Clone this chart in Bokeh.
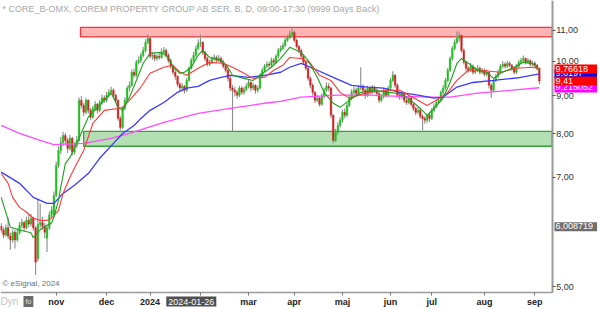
from bokeh.plotting import figure
from bokeh.models import (ColumnDataSource, Range1d, FixedTicker, CustomJSTickFormatter, Label)
from bokeh.embed import file_html
from bokeh.resources import INLINE

# ---------------- data (daily candles, trading-day index; 0 = 2023-11-01) ----------------
bar_index = list(range(-24, 212))

opens = [6.02, 5.95, 5.86, 5.99, 5.84, 5.77, 5.91, 5.77, 5.90, 6.04, 6.09, 5.99, 6.13, 6.06, 6.17, 5.99, 5.45, 6.05, 6.09, 6.02, 5.80, 5.99, 6.23, 6.25,
         6.62, 7.26, 7.60, 7.79, 7.96, 7.84, 7.65, 7.89, 7.56, 7.72, 7.84, 8.87, 8.73, 8.55, 8.87, 8.60, 8.42, 8.65, 8.76, 8.60, 8.81, 8.93,
         8.87, 9.01, 9.09, 9.15, 9.01, 8.87, 8.39, 8.16, 8.65, 8.87, 9.21, 9.29, 9.67, 9.58, 9.97, 10.03, 10.19, 10.34, 10.60,
         10.73, 10.16, 10.19, 10.09, 10.16, 10.12, 10.28, 10.34, 10.19, 10.03, 9.85, 9.67, 9.55, 9.32, 9.21, 9.26, 9.15, 9.43, 9.79, 10.03, 10.19, 10.40,
         10.57, 10.60, 10.28, 10.09, 9.91, 9.97, 10.09, 10.12, 10.03, 10.09, 9.97, 9.85, 9.73, 9.49, 9.21, 9.15, 9.09, 9.01, 9.21, 9.09, 9.18,
         9.26, 9.37, 9.21, 9.29, 9.15, 9.21, 9.58, 9.73, 9.85, 9.91, 9.88, 10.03, 9.97, 10.16, 10.34, 10.40, 10.50, 10.67, 10.76, 10.86,
         10.93, 10.67, 10.47, 10.34, 10.16, 9.97, 9.79, 9.49, 9.29, 9.09, 8.87, 8.93, 8.76, 8.98, 9.15, 9.26, 9.21, 8.47, 7.84, 8.04, 8.21,
         8.34, 8.55, 8.47, 8.73, 8.93, 9.09, 9.15, 9.06, 9.21, 9.26, 9.15, 9.01, 9.21, 9.09, 9.23, 9.15, 9.06, 8.87, 8.98, 9.15, 9.01,
         9.21, 9.43, 9.58, 9.29, 9.01, 8.96, 9.06, 8.87, 8.81, 8.93, 8.76, 8.65, 8.55, 8.60, 8.44, 8.39, 8.34, 8.47,
         8.39, 8.60, 8.70, 8.81, 8.87, 9.09, 9.21, 9.43, 9.73, 10.09, 10.40, 10.60, 10.73, 10.83, 10.34, 9.97, 9.79, 9.73, 9.85, 9.67, 9.73, 9.79, 9.67,
         9.73, 9.61, 9.67, 9.29, 9.15, 9.43, 9.55, 9.67, 9.85, 9.91, 9.85, 9.94, 9.88, 9.79, 9.67, 9.85, 9.97, 10.03, 10.09, 9.97, 10.03, 9.91,
         9.94, 9.88, 9.79]

highs = [6.08, 6.00, 6.05, 6.19, 5.90, 5.96, 5.95, 5.98, 6.10, 6.16, 6.12, 6.20, 6.24, 6.25, 6.20, 6.02, 6.55, 6.45, 6.20, 6.08, 6.05, 6.30, 6.40, 6.70,
         7.35, 7.70, 7.92, 8.05, 8.02, 7.90, 7.98, 7.93, 7.80, 7.95, 8.95, 8.98, 8.80, 8.93, 8.90, 8.66, 8.72, 8.85, 8.80, 8.88, 9.02, 9.00,
         9.10, 9.18, 9.25, 9.20, 9.05, 8.90, 8.45, 8.70, 8.95, 9.28, 9.40, 9.75, 9.78, 10.05, 10.15, 10.28, 10.45, 10.70, 10.86,
         10.80, 10.30, 10.25, 10.22, 10.25, 10.40, 10.45, 10.40, 10.25, 10.08, 9.90, 9.72, 9.58, 9.38, 9.35, 9.30, 9.50, 9.85, 10.10, 10.30, 10.50, 10.70,
         10.86, 10.65, 10.32, 10.15, 10.05, 10.15, 10.22, 10.18, 10.20, 10.15, 10.05, 9.92, 9.78, 9.55, 9.30, 9.25, 9.15, 9.28, 9.26, 9.25, 9.35,
         9.45, 9.42, 9.36, 9.32, 9.28, 9.65, 9.80, 9.92, 10.00, 9.98, 10.12, 10.10, 10.22, 10.42, 10.50, 10.60, 10.75, 10.85, 10.98, 11.07,
         11.00, 10.72, 10.52, 10.40, 10.22, 10.02, 9.84, 9.55, 9.35, 9.12, 9.02, 8.98, 9.05, 9.22, 9.38, 9.35, 9.25, 8.50, 8.12, 8.30, 8.42,
         8.62, 8.65, 8.80, 9.00, 9.18, 9.25, 9.22, 9.30, 9.82, 9.32, 9.20, 9.28, 9.25, 9.30, 9.28, 9.20, 9.10, 9.05, 9.22, 9.20, 9.28,
         9.50, 9.70, 9.62, 9.35, 9.08, 9.12, 9.10, 8.92, 9.00, 8.96, 8.80, 8.70, 8.68, 8.65, 8.50, 8.45, 8.52, 8.55,
         8.66, 8.78, 8.88, 8.95, 9.15, 9.30, 9.50, 9.80, 10.15, 10.48, 10.70, 10.97, 10.95, 10.86, 10.40, 10.02, 9.85, 9.95, 9.90, 9.82, 9.88, 9.85, 9.80,
         9.78, 9.75, 9.70, 9.35, 9.50, 9.62, 9.75, 9.92, 10.00, 9.98, 10.02, 10.00, 9.92, 9.85, 9.92, 10.05, 10.12, 10.18, 10.12, 10.10, 10.06, 10.02,
         10.00, 9.92, 9.82]

lows = [5.90, 5.80, 5.83, 5.79, 5.60, 5.72, 5.62, 5.74, 5.87, 5.98, 5.93, 5.96, 6.00, 6.02, 5.94, 5.18, 5.40, 5.98, 5.95, 5.80, 5.56, 5.95, 6.18, 6.20,
        6.58, 7.20, 7.52, 7.70, 7.75, 7.55, 7.60, 7.48, 7.50, 7.66, 7.80, 8.65, 8.45, 8.50, 8.52, 8.35, 8.38, 8.58, 8.52, 8.55, 8.75, 8.80,
        8.82, 8.95, 9.02, 8.95, 8.80, 8.33, 8.08, 8.12, 8.60, 8.82, 9.12, 9.25, 9.50, 9.52, 9.90, 9.95, 10.12, 10.28, 10.55,
        10.10, 10.05, 10.00, 10.02, 10.05, 10.08, 10.22, 10.12, 9.95, 9.78, 9.60, 9.45, 9.25, 9.10, 9.12, 9.05, 9.10, 9.40, 9.75, 9.98, 10.12, 10.35,
        10.45, 10.20, 10.00, 9.85, 9.86, 9.92, 10.02, 9.96, 9.98, 9.90, 9.78, 9.66, 9.40, 9.12, 8.06, 8.98, 8.92, 8.96, 9.02, 9.02, 9.12,
        9.20, 9.12, 9.15, 9.05, 9.08, 9.18, 9.52, 9.68, 9.80, 9.80, 9.82, 9.90, 9.92, 10.10, 10.28, 10.35, 10.45, 10.62, 10.70, 10.78,
        10.60, 10.40, 10.25, 10.08, 9.90, 9.72, 9.42, 9.20, 9.00, 8.80, 8.82, 8.70, 8.72, 8.92, 9.10, 9.12, 8.40, 7.77, 7.80, 7.98, 8.15,
        8.28, 8.40, 8.42, 8.68, 8.88, 9.02, 8.98, 9.00, 9.15, 9.08, 8.92, 8.96, 9.02, 9.04, 9.08, 8.98, 8.80, 8.82, 8.92, 8.95, 8.96,
        9.15, 9.38, 9.22, 8.95, 8.88, 8.90, 8.80, 8.74, 8.76, 8.70, 8.58, 8.48, 8.50, 8.38, 8.09, 8.25, 8.28, 8.30,
        8.35, 8.55, 8.65, 8.76, 8.82, 9.02, 9.15, 9.38, 9.68, 10.02, 10.35, 10.55, 10.62, 10.28, 9.90, 9.70, 9.66, 9.68, 9.60, 9.62, 9.68, 9.60, 9.62,
        9.55, 9.55, 9.20, 8.93, 9.10, 9.38, 9.50, 9.62, 9.80, 9.78, 9.80, 9.82, 9.72, 9.60, 9.62, 9.80, 9.92, 9.98, 9.90, 9.92, 9.85, 9.85,
        9.80, 9.72, 9.32]

closes = [5.95, 5.86, 5.99, 5.84, 5.77, 5.91, 5.77, 5.90, 6.04, 6.09, 5.99, 6.13, 6.06, 6.17, 5.99, 5.39, 6.05, 6.09, 6.02, 5.91, 5.99, 6.23, 6.32, 6.62,
          7.26, 7.60, 7.79, 7.96, 7.84, 7.65, 7.89, 7.56, 7.72, 7.84, 8.87, 8.73, 8.55, 8.87, 8.60, 8.42, 8.65, 8.76, 8.60, 8.81, 8.93, 8.87,
          9.01, 9.09, 9.15, 9.01, 8.87, 8.39, 8.16, 8.65, 8.87, 9.21, 9.29, 9.67, 9.58, 9.97, 10.03, 10.19, 10.34, 10.60, 10.73,
          10.16, 10.19, 10.09, 10.16, 10.12, 10.28, 10.34, 10.19, 10.03, 9.85, 9.67, 9.55, 9.32, 9.21, 9.26, 9.15, 9.43, 9.79, 10.03, 10.19, 10.40, 10.57,
          10.60, 10.28, 10.09, 9.91, 9.97, 10.09, 10.12, 10.03, 10.09, 9.97, 9.85, 9.73, 9.49, 9.21, 9.15, 9.09, 9.01, 9.21, 9.09, 9.18, 9.26,
          9.37, 9.21, 9.29, 9.15, 9.21, 9.58, 9.73, 9.85, 9.91, 9.88, 10.03, 9.97, 10.16, 10.34, 10.40, 10.50, 10.67, 10.76, 10.86, 10.93,
          10.67, 10.47, 10.34, 10.16, 9.97, 9.79, 9.49, 9.29, 9.09, 8.87, 8.93, 8.76, 8.98, 9.15, 9.26, 9.21, 8.47, 7.84, 8.04, 8.21, 8.34,
          8.55, 8.47, 8.73, 8.93, 9.09, 9.15, 9.06, 9.21, 9.26, 9.15, 9.01, 9.21, 9.09, 9.23, 9.15, 9.06, 8.87, 8.98, 9.15, 9.01, 9.21,
          9.43, 9.58, 9.29, 9.01, 8.96, 9.06, 8.87, 8.81, 8.93, 8.76, 8.65, 8.55, 8.60, 8.44, 8.39, 8.34, 8.47, 8.39,
          8.60, 8.70, 8.81, 8.87, 9.09, 9.21, 9.43, 9.73, 10.09, 10.40, 10.60, 10.73, 10.83, 10.34, 9.97, 9.79, 9.73, 9.85, 9.67, 9.73, 9.79, 9.67, 9.73,
          9.61, 9.67, 9.29, 9.15, 9.43, 9.55, 9.67, 9.85, 9.91, 9.85, 9.94, 9.88, 9.79, 9.67, 9.85, 9.97, 10.03, 10.09, 9.97, 10.03, 9.91, 9.94,
          9.88, 9.79, 9.41]

# moving averages (bar index, value)
ma10_idx = [-24, -20, -16, -11, -10, -8, -6, -2, -1, 1, 2, 4, 6, 9, 14, 18, 24, 27, 29, 32, 35, 38, 41, 46, 49, 51, 54, 56, 59, 62, 64, 67, 72, 75,
            77, 82, 86, 89, 94, 98, 102, 107, 110, 114, 117, 121, 124, 128, 133, 139, 145, 150, 155, 159, 162, 165, 169, 172, 175, 177, 180,
            184, 188, 191, 194, 200, 204, 208, 211]
ma10_val = [6.58, 6.00, 5.95, 5.90, 5.81, 5.91, 5.99, 6.08, 6.19, 6.52, 6.79, 7.30, 7.44, 7.77, 8.42, 8.68, 9.07, 8.68, 8.60, 8.95, 9.43, 9.94,
            10.25, 10.28, 10.12, 9.82, 9.64, 9.67, 9.82, 10.19, 10.34, 10.12, 10.03, 9.82, 9.58, 9.49, 9.43, 9.58, 9.82, 10.09, 10.44, 10.28,
            10.03, 9.52, 9.09, 8.79, 8.68, 8.87, 9.09, 9.15, 9.09, 9.06, 8.87, 8.65, 8.47, 8.65, 8.93, 9.37, 9.94, 10.09, 9.94, 9.73, 9.67,
            9.49, 9.64, 9.82, 9.97, 9.94, 9.73]
ma20_idx = [-24, -21, -19, -16, -13, -10, -7, -4, -2, 1, 3, 6, 9, 12, 16, 21, 27, 29, 32, 37, 41, 47, 51, 54, 57, 62, 67, 73, 77, 82, 86, 91,
            95, 99, 102, 107, 111, 115, 120, 124, 128, 136, 145, 150, 158, 162, 166, 171, 175, 180, 185, 194, 201, 208, 211]
ma20_val = [7.08, 6.87, 6.58, 6.38, 6.29, 6.17, 6.13, 6.13, 6.17, 6.32, 6.66, 7.00, 7.30, 7.60, 8.26, 8.60, 8.65, 8.68, 8.87, 9.24, 9.64,
            9.82, 9.88, 9.67, 9.58, 9.79, 9.97, 9.94, 9.82, 9.64, 9.49, 9.52, 9.73, 9.88, 10.12, 10.09, 9.94, 9.58, 9.43, 9.09, 8.93, 9.09,
            9.15, 9.15, 8.87, 8.73, 8.87, 9.09, 9.43, 9.73, 9.73, 9.67, 9.79, 9.82, 9.77]
ma50_idx = [-24, -16, -10, -4, -1, 3, 8, 14, 19, 25, 29, 34, 37, 41, 47, 53, 57, 62, 67, 72, 76, 84, 91, 98, 102, 107, 114, 121, 129, 136,
            143, 150, 158, 165, 169, 175, 182, 191, 201, 211]
ma50_val = [7.11, 6.87, 6.58, 6.46, 6.46, 6.66, 6.83, 7.08, 7.42, 7.77, 8.01, 8.21, 8.39, 8.60, 8.81, 9.09, 9.21, 9.26, 9.43, 9.52, 9.58,
            9.52, 9.58, 9.67, 9.82, 9.94, 9.73, 9.52, 9.29, 9.24, 9.21, 9.09, 9.01, 8.93, 8.96, 9.24, 9.37, 9.43, 9.50, 9.62]
ma200_idx = [-24, -16, -7, -1, 12, 24, 32, 47, 62, 76, 91, 98, 107, 123, 137, 150, 165, 172, 184, 199, 211]
ma200_val = [8.21, 8.01, 7.84, 7.74, 7.77, 7.89, 8.01, 8.29, 8.52, 8.65, 8.79, 8.84, 8.96, 9.01, 9.01, 8.98, 8.96, 8.96, 9.07, 9.15, 9.22]

# visible window of the price pane (bar index / price)
win_x = (-24.3, 216.6)
win_y = (4.91, 12.06)

# support / resistance zones (start bar, price band)
zone_start = [10.6, 12.0]
zone_top = [11.10, 8.06]
zone_bottom = [10.78, 7.70]
zone_fill = ["#ffb3b3", "#b3e0b3"]
zone_line = ["#e83a3a", "#35a035"]

month_ticks = [0, 22, 41, 63, 84, 104, 125, 146, 164, 187, 209]
month_labels = ["nov", "dec", "2024", "feb", "mar", "apr", "maj", "jun", "jul", "aug", "sep"]
price_ticks = [5, 7, 8, 9, 10, 11]

# last values shown on the price scale
last_labels = [(6.008719, "6,008719", "#6e6e6e"),
               (9.215052, "9,215052", "#ff00ff"),
               (9.62, "9,6197", "#0000ff"),
               (9.41, "9,41", "#ff0000"),
               (9.76618, "9,76618", "#ff0000")]

# ---------------- figure ----------------
p = figure(width=600, height=309, x_range=Range1d(-24.32, 237.7), y_range=Range1d(4.659, 12.06),
           y_axis_type="log", y_axis_location="right", output_backend="svg", toolbar_location=None,
           min_border_left=0, min_border_top=0, min_border_right=0, min_border_bottom=0)
p.outline_line_color = None
p.grid.visible = False
p.background_fill_color = "white"
p.border_fill_color = "white"

p.quad(left=zone_start, right=[win_x[1]] * len(zone_start), top=zone_top, bottom=zone_bottom,
       fill_color=zone_fill, line_color=zone_line, line_width=1.3)

body_top = [max(o, c) for o, c in zip(opens, closes)]
body_bot = [min(o, c) for o, c in zip(opens, closes)]
colors = ["#1cc21c" if c >= o else "#d42020" for o, c in zip(opens, closes)]
src = ColumnDataSource(dict(x=bar_index, high=highs, low=lows, top=body_top, bottom=body_bot, color=colors))
p.segment(x0="x", y0="low", x1="x", y1="high", source=src, line_color="#8c8c8c", line_width=1.1)
p.vbar(x="x", width=0.72, top="top", bottom="bottom", source=src, fill_color="color", line_color="color", line_width=0.4)

p.line(ma200_idx, ma200_val, line_color="#ff4cff", line_width=1.3)
p.line(ma50_idx, ma50_val, line_color="#3a3aff", line_width=1.3)
p.line(ma20_idx, ma20_val, line_color="#ff3a3a", line_width=1.1)
p.line(ma10_idx, ma10_val, line_color="#1f9f1f", line_width=1.1)

# axes (pinned at the edge of the price pane)
p.yaxis.fixed_location = win_x[1]
p.yaxis.bounds = win_y
p.yaxis.ticker = FixedTicker(ticks=price_ticks)
p.yaxis.formatter = CustomJSTickFormatter(code="return tick.toFixed(2).replace('.', ',')")
p.yaxis.minor_tick_line_color = None
p.yaxis.major_tick_in = 0
p.yaxis.major_tick_out = 3
p.yaxis.major_tick_line_color = "#555555"
p.yaxis.axis_line_color = "#9a9a9a"
p.yaxis.axis_line_width = 2
p.yaxis.major_label_standoff = 1
p.yaxis.major_label_text_font_size = "9px"
p.yaxis.major_label_text_color = "#333333"
p.yaxis.major_label_text_font = "Liberation Sans"

p.xaxis.fixed_location = win_y[0]
p.xaxis.bounds = win_x
p.xaxis.ticker = FixedTicker(ticks=month_ticks)
p.xaxis.formatter = CustomJSTickFormatter(args=dict(mticks=month_ticks, mlabels=month_labels),
                                          code="const k = mticks.indexOf(tick); return k >= 0 ? mlabels[k] : '';")
p.xaxis.major_tick_in = 0
p.xaxis.major_tick_out = 3
p.xaxis.minor_tick_line_color = None
p.xaxis.major_tick_line_color = "#777777"
p.xaxis.axis_line_color = "#9a9a9a"
p.xaxis.axis_line_width = 1.5
p.xaxis.major_label_standoff = 2
p.xaxis.major_label_text_font_size = "9px"
p.xaxis.major_label_text_font_style = "bold"
p.xaxis.major_label_text_color = "#222222"
p.xaxis.major_label_text_font = "Liberation Sans"

# texts (screen units measured from the bottom-left of the canvas)
p.add_layout(Label(x=2, y=301, x_units="screen", y_units="screen",
                   text="* CORE_B-OMX, COREM PROPERTY GROUP AB SER. B, D, 09:00-17:30 (9999 Days Back)",
                   text_font="Liberation Sans", text_font_size="9px", text_color="#a8a8a8", text_baseline="middle"))
p.add_layout(Label(x=2, y=26, x_units="screen", y_units="screen", text="\u00a9 eSignal, 2024",
                   text_font="Liberation Sans", text_font_size="8px", text_color="#707070", text_baseline="middle"))
p.add_layout(Label(x=0, y=8, x_units="screen", y_units="screen", text="Dyn",
                   text_font="Liberation Sans", text_font_size="10px", text_color="#c4c4c4", text_baseline="middle"))
p.add_layout(Label(x=23, y=8, x_units="screen", y_units="screen", text="fo",
                   text_font="Liberation Sans", text_font_size="7px", text_color="#e8e8e8", text_baseline="middle",
                   background_fill_color="#6a6a6a", padding=2))
p.add_layout(Label(x=59, y=8, x_units="data", y_units="screen", text="2024-01-26", text_align="center",
                   text_font="Liberation Sans", text_font_size="9px", text_color="white", text_baseline="middle",
                   background_fill_color="#505050", padding=2))

for v, txt, bg in last_labels:
    right_pad = max(2, 44 - 5 * len(txt))
    p.add_layout(Label(x=554, y=v, x_units="screen", y_units="data", text=txt, text_baseline="middle",
                       text_font="Liberation Sans", text_font_size="9px", text_color="white",
                       background_fill_color=bg, padding=(1, right_pad, 1, 2)))

open("out.html", "w").write(file_html(p, INLINE))
